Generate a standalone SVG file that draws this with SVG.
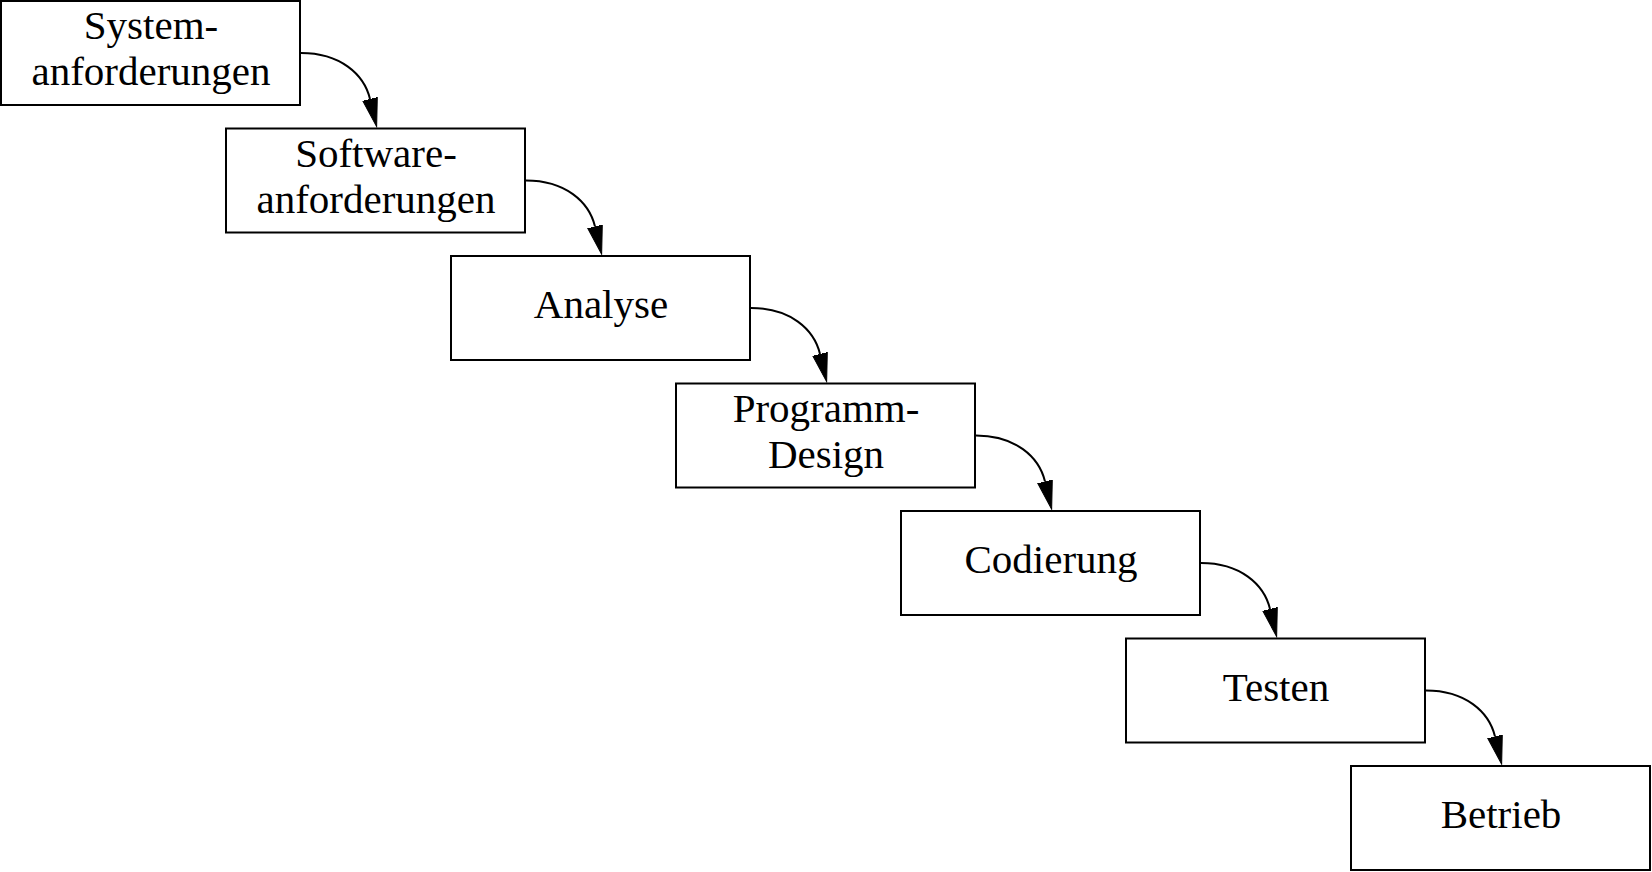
<svg xmlns="http://www.w3.org/2000/svg" width="1652" height="872" viewBox="0 0 1652 872">
<style>
.box{fill:#fff;stroke:#000;stroke-width:2}
.lbl{font-family:"Liberation Serif","Times New Roman",serif;font-size:41px;fill:#000;text-anchor:middle}
.edge{fill:none;stroke:#000;stroke-width:2;marker-end:url(#ah)}
</style>
<defs>
<marker id="ah" markerUnits="userSpaceOnUse" viewBox="0 0 30 16" markerWidth="30" markerHeight="16" refX="0" refY="8" orient="auto">
<path d="M0,0.5 L28.5,8 L0,15.5 Z" fill="#000" stroke="#000" stroke-width="1"/>
</marker>
</defs>
<rect width="1652" height="872" fill="#fff"/>
<g id="connectors">
<path class="edge" d="M301,53 C340,53 364,74 370,99"/>
<path class="edge" d="M526,180.5 C565,180.5 589,201.5 595,226.5"/>
<path class="edge" d="M751,308 C790,308 814,329 820,354"/>
<path class="edge" d="M976,435.5 C1015,435.5 1039,456.5 1045,481.5"/>
<path class="edge" d="M1201,563 C1240,563 1264,584 1270,609"/>
<path class="edge" d="M1426,690.5 C1465,690.5 1489,711.5 1495,736.5"/>
</g>
<g id="n1"><rect class="box" x="1" y="1" width="299" height="104"/><text class="lbl" x="151" y="39">System-</text><text class="lbl" x="151" y="85">anforderungen</text></g>
<g id="n2"><rect class="box" x="226" y="128.5" width="299" height="104"/><text class="lbl" x="376" y="166.5">Software-</text><text class="lbl" x="376" y="212.5">anforderungen</text></g>
<g id="n3"><rect class="box" x="451" y="256" width="299" height="104"/><text class="lbl" x="601" y="318">Analyse</text></g>
<g id="n4"><rect class="box" x="676" y="383.5" width="299" height="104"/><text class="lbl" x="826" y="421.5">Programm-</text><text class="lbl" x="826" y="467.5">Design</text></g>
<g id="n5"><rect class="box" x="901" y="511" width="299" height="104"/><text class="lbl" x="1051" y="573">Codierung</text></g>
<g id="n6"><rect class="box" x="1126" y="638.5" width="299" height="104"/><text class="lbl" x="1276" y="700.5">Testen</text></g>
<g id="n7"><rect class="box" x="1351" y="766" width="299" height="104"/><text class="lbl" x="1501" y="828">Betrieb</text></g>
</svg>
